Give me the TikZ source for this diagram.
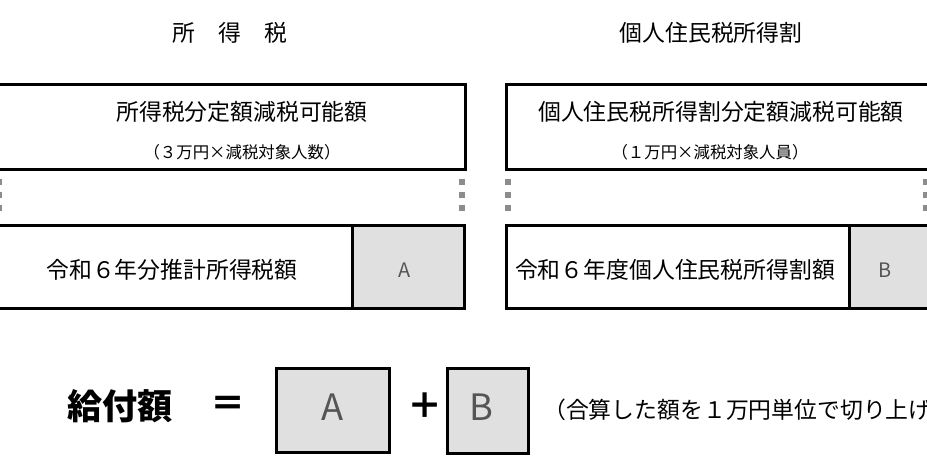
\documentclass[tikz,border=0pt]{standalone}
\usepackage{fontspec}
\setmainfont{Noto Sans CJK JP}
\usepackage{xcolor}
\definecolor{boxgray}{HTML}{E0E0E0}
\definecolor{dotgray}{HTML}{8C8C8C}
\definecolor{lettergray}{HTML}{555555}

\begin{document}
\begin{tikzpicture}[x=0.03cm,y=-0.03cm,
                frame node/.style={draw,line width=2.5pt,inner sep=0pt,anchor=north west},
                gray node/.style={frame node,fill=boxgray},
                head node/.style={inner sep=0pt,font=\fontsize{19.5}{20}\selectfont},
                small node/.style={inner sep=0pt,font=\fontsize{14}{15}\selectfont},
                letter node/.style={inner sep=0pt,text=lettergray,font=\fontsize{17}{18}\selectfont},
                big letter/.style={inner sep=0pt,text=lettergray,font=\fontsize{31}{32}\selectfont},
                dots/.style={dotgray,line width=5pt,dash pattern=on 5pt off 6pt}]

  \useasboundingbox (0,0) rectangle (927,473);

  % headings
  \node[head node] (hl) at (230,33) {所　得　税};
  \node[head node] (hr) at (711,33) {個人住民税所得割};

  % upper boxes
  \node[frame node,minimum width=14.52cm,minimum height=2.55cm] (tl) at (-20,83) {};
  \node[frame node,minimum width=13.5cm,minimum height=2.55cm] (tr) at (505,83) {};
  \node[head node] (tlt) at (242,112) {所得税分定額減税可能額};
  \node[small node] (tls) at (242,152) {（３万円×減税対象人数）};
  \node[head node] (trt) at (721,112) {個人住民税所得割分定額減税可能額};
  \node[small node] (trs) at (710,152) {（１万円×減税対象人員）};

  % dotted gaps
  \draw[dots] (-1,179) -- (-1,216);
  \draw[dots] (462,179) -- (462,216);
  \draw[dots] (508,179) -- (508,216);
  \draw[dots] (926,179) -- (926,216);

  % lower boxes
  \node[frame node,minimum width=11.13cm,minimum height=2.49cm] (bl) at (-20,224) {};
  \node[gray node,minimum width=3.36cm,minimum height=2.49cm] (ba) at (351,224) {};
  \node[frame node,minimum width=10.29cm,minimum height=2.49cm] (br) at (505,224) {};
  \node[gray node,minimum width=3.36cm,minimum height=2.49cm] (bb) at (848,224) {};
  \node[head node] (blt) at (172,270) {令和６年分推計所得税額};
  \node[letter node] at (405,270) (la) {A};
  \node[head node] (brt) at (675,270) {令和６年度個人住民税所得割額};
  \node[letter node] at (885,270) (lb) {B};

  % formula
  \node[inner sep=0pt,font=\fontsize{30}{31}\selectfont\bfseries] (kyufu) at (120,406) {給付額};
  \node[inner sep=0pt,font=\fontsize{30}{31}\selectfont\bfseries] (eq) at (228,406) {＝};
  \node[gray node,minimum width=3.39cm,minimum height=2.52cm] (fa) at (275,367) {};
  \node[big letter] at (333,407) (fla) {A};
  \node[inner sep=0pt,font=\fontsize{30}{31}\selectfont\bfseries] (plus) at (425,406) {＋};
  \node[gray node,minimum width=2.43cm,minimum height=2.55cm] (fb) at (446,367) {};
  \node[big letter] at (481,407) (flb) {B};
  \node[head node,anchor=west] (note) at (543,410) {（合算した額を１万円単位で切り上げ};
\end{tikzpicture}
\end{document}
